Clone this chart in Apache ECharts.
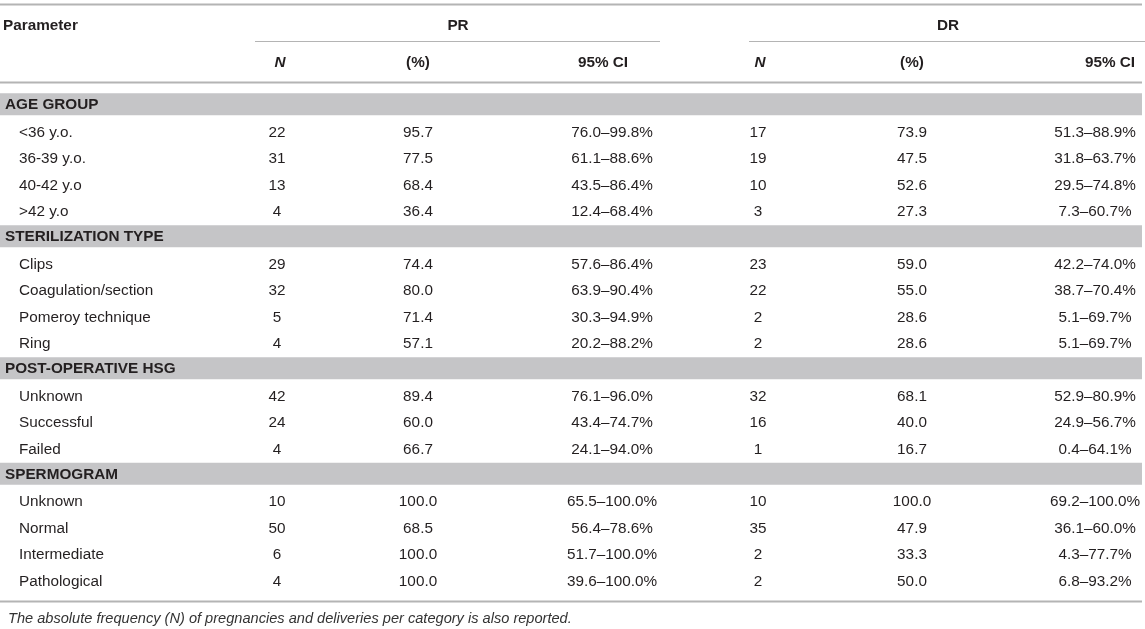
<!DOCTYPE html>
<html>
<head>
<meta charset="utf-8">
<script src="https://cdn.jsdelivr.net/npm/echarts@6/dist/echarts.min.js"></script>
</head>
<body style="margin:0;">
<div id="main" style="width:1145px;height:629px;"></div>
<script type="text/javascript">
// table content
var sections = ['AGE GROUP', 'STERILIZATION TYPE', 'POST-OPERATIVE HSG', 'SPERMOGRAM'];
var rowLabels = [
    ['<36 y.o.', '36-39 y.o.', '40-42 y.o', '>42 y.o'],
    ['Clips', 'Coagulation/section', 'Pomeroy technique', 'Ring'],
    ['Unknown', 'Successful', 'Failed'],
    ['Unknown', 'Normal', 'Intermediate', 'Pathological']
];
var prN   = [22, 31, 13, 4, 29, 32, 5, 4, 42, 24, 4, 10, 50, 6, 4];
var prPct = ['95.7', '77.5', '68.4', '36.4', '74.4', '80.0', '71.4', '57.1', '89.4', '60.0', '66.7', '100.0', '68.5', '100.0', '100.0'];
var prCI  = ['76.0–99.8%', '61.1–88.6%', '43.5–86.4%', '12.4–68.4%', '57.6–86.4%', '63.9–90.4%', '30.3–94.9%', '20.2–88.2%',
             '76.1–96.0%', '43.4–74.7%', '24.1–94.0%', '65.5–100.0%', '56.4–78.6%', '51.7–100.0%', '39.6–100.0%'];
var drN   = [17, 19, 10, 3, 23, 22, 2, 2, 32, 16, 1, 10, 35, 2, 2];
var drPct = ['73.9', '47.5', '52.6', '27.3', '59.0', '55.0', '28.6', '28.6', '68.1', '40.0', '16.7', '100.0', '47.9', '33.3', '50.0'];
var drCI  = ['51.3–88.9%', '31.8–63.7%', '29.5–74.8%', '7.3–60.7%', '42.2–74.0%', '38.7–70.4%', '5.1–69.7%', '5.1–69.7%',
             '52.9–80.9%', '24.9–56.7%', '0.4–64.1%', '69.2–100.0%', '36.1–60.0%', '4.3–77.7%', '6.8–93.2%'];
var groupHeads = ['PR', 'DR'];
var colHeads = ['N', '(%)', '95% CI'];
var footNote = 'The absolute frequency (N) of pregnancies and deliveries per category is also reported.';

// layout (x positions on the 0..1145 column scale)
var colX = [19, 277, 418, 612, 758, 912, 1095];
var headX = [280, 418, 603, 760, 912, 1110];
var groupX = [458, 948];
var ruleSpans = [[255, 660], [749, 1145]];
var FONT = 'Liberation Sans';
var INK = '#231f20';
var RULE = '#b4b4b4';

// build body rows
var rows = [];      // category names for y axis
var cells = [];     // text cells
var bands = [];     // section row indices
var k = 0;
sections.forEach(function (sec, s) {
    bands.push(rows.length);
    cells.push({x: 5, row: rows.length, text: sec, align: 'left', bold: true, dy: -1});
    rows.push(sec);
    rowLabels[s].forEach(function (lab) {
        var r = rows.length;
        var vals = [lab, prN[k], prPct[k], prCI[k], drN[k], drPct[k], drCI[k]];
        vals.forEach(function (v, c) {
            cells.push({x: colX[c], row: r, text: String(v), align: c === 0 ? 'left' : 'center', bold: false, dy: 0});
        });
        rows.push(s + ':' + lab);
        k++;
    });
});

// header cells
var headCells = [{x: 3, row: 0, text: 'Parameter', align: 'left', bold: true, dy: 0}];
groupHeads.forEach(function (g, i) {
    headCells.push({x: groupX[i], row: 0, text: g, align: 'center', bold: true, dy: 0});
});
headX.forEach(function (x, i) {
    var t = colHeads[i % 3];
    headCells.push({x: x, row: 1, text: t, align: 'center', bold: true, italic: t === 'N', dy: 0});
});

function textRender(list) {
    return function (params, api) {
        var d = list[params.dataIndex];
        var p = api.coord([d.x, d.row]);
        return {
            type: 'text',
            style: {
                text: d.text, x: p[0], y: p[1] + d.dy, align: d.align, verticalAlign: 'middle',
                fontFamily: FONT, fontSize: 15.3,
                fontWeight: d.bold ? 'bold' : 'normal',
                fontStyle: d.italic ? 'italic' : 'normal',
                fill: INK
            }
        };
    };
}

var chart = echarts.init(document.getElementById('main'));
var option = {
    animation: false,
    backgroundColor: '#fff',
    title: {
        text: footNote, left: 8, top: 611, padding: 0,
        textStyle: {fontFamily: FONT, fontSize: 14.6, fontStyle: 'italic', fontWeight: 'normal', color: '#333'}
    },
    grid: [
        {left: 0, right: 0, top: 93, height: 19 * 26.4},
        {left: 0, right: 0, top: 7, height: 74}
    ],
    xAxis: [
        {type: 'value', gridIndex: 0, min: 0, max: 1145, show: false},
        {type: 'value', gridIndex: 1, min: 0, max: 1145, show: false}
    ],
    yAxis: [
        {type: 'category', gridIndex: 0, data: rows, inverse: true, show: false},
        {type: 'category', gridIndex: 1, data: ['group', 'column'], inverse: true, show: false}
    ],
    series: [
        {
            // grey section bands
            type: 'custom', xAxisIndex: 0, yAxisIndex: 0,
            data: bands.map(function (r) { return [0, r]; }),
            renderItem: function (params, api) {
                var a = api.coord([0, api.value(1)]);
                var b = api.coord([1142, api.value(1)]);
                return {type: 'rect', shape: {x: a[0], y: a[1] - 13, width: b[0] - a[0], height: 22},
                        style: {fill: '#c5c5c7'}};
            }
        },
        {
            // bottom rule
            type: 'custom', xAxisIndex: 0, yAxisIndex: 0,
            data: [[0, rows.length - 1]],
            renderItem: function (params, api) {
                var a = api.coord([0, api.value(1)]);
                var b = api.coord([1142, api.value(1)]);
                return {type: 'line', shape: {x1: a[0], y1: a[1] + 20, x2: b[0], y2: b[1] + 20},
                        style: {stroke: RULE, lineWidth: 2}};
            }
        },
        {
            type: 'custom', xAxisIndex: 0, yAxisIndex: 0,
            data: cells.map(function (c) { return [c.x, c.row]; }),
            renderItem: textRender(cells)
        },
        {
            // header rules
            type: 'custom', xAxisIndex: 1, yAxisIndex: 1,
            data: [[0, 0]],
            renderItem: function (params, api) {
                var top = api.coord([0, 0]);
                var sub = api.coord([0, 1]);
                var right = api.coord([1142, 0])[0];
                var kids = [
                    {type: 'line', shape: {x1: 0, y1: top[1] - 21, x2: right, y2: top[1] - 21},
                     style: {stroke: RULE, lineWidth: 2}},
                    {type: 'line', shape: {x1: 0, y1: sub[1] + 20, x2: right, y2: sub[1] + 20},
                     style: {stroke: RULE, lineWidth: 2}}
                ];
                ruleSpans.forEach(function (s) {
                    var x1 = api.coord([s[0], 0])[0], x2 = api.coord([s[1], 0])[0];
                    kids.push({type: 'line', shape: {x1: x1, y1: top[1] + 16, x2: x2, y2: top[1] + 16},
                               style: {stroke: RULE, lineWidth: 1}});
                });
                return {type: 'group', children: kids};
            }
        },
        {
            type: 'custom', xAxisIndex: 1, yAxisIndex: 1,
            data: headCells.map(function (c) { return [c.x, c.row]; }),
            renderItem: textRender(headCells)
        }
    ]
};
chart.setOption(option);
</script>
</body>
</html>
